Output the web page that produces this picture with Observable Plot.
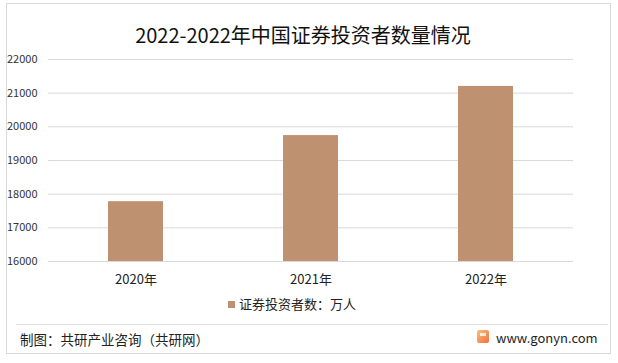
<!DOCTYPE html>
<html>
<head>
<meta charset="utf-8">
<script src="https://cdn.jsdelivr.net/npm/d3@7"></script>
<script src="https://cdn.jsdelivr.net/npm/@observablehq/plot@0.6"></script>
<style>
  html, body { margin: 0; padding: 0; background: #fff; }
  #wrap { position: relative; width: 618px; height: 363px; overflow: hidden; font-family: "Noto Sans CJK SC", "Noto Sans", sans-serif; color: #222; }
  #border { position: absolute; left: 6px; top: 3px; width: 605px; height: 351px; border: 1px solid #d9d9d9; box-sizing: border-box; }
  #title { position: absolute; left: 0; top: 20px; width: 606px; text-align: center; font-size: 20px; line-height: 30px; color: #111; }
  #chart { position: absolute; left: 0; top: 50px; }
  #legend { position: absolute; left: 228px; top: 296px; font-size: 13px; line-height: 16px; display: flex; align-items: center; color: #222; }
  #legend .sw { width: 7px; height: 7px; margin-right: 4px; }
  #sep { position: absolute; left: 16px; top: 324px; width: 592px; height: 1px; background: #e3e3e3; }
  #credit { position: absolute; left: 20px; top: 330px; font-size: 13.5px; line-height: 18px; color: #222; }
  #site { position: absolute; left: 496px; top: 329px; font-size: 13px; line-height: 18px; color: #222; }
  #logo { position: absolute; left: 477px; top: 330px; width: 12px; height: 13px; border-radius: 2px; background: linear-gradient(135deg, #f9c07a, #f0703f); }
  #logo::after { content: ""; position: absolute; left: 3px; top: 3px; width: 6px; height: 3px; background: #fff; opacity: 0.8; }
</style>
</head>
<body>
<div id="wrap">
  <div id="border"></div>
  <div id="title"></div>
  <div id="chart"></div>
  <div id="legend"></div>
  <div id="sep"></div>
  <div id="credit"></div>
  <div id="logo"></div>
  <div id="site"></div>
</div>
<script>
const titleText = "2022-2022年中国证券投资者数量情况";
const years = ["2020年", "2021年", "2022年"];
const investors = [17777, 19740, 21200];
const yTicks = [16000, 17000, 18000, 19000, 20000, 21000, 22000];
const seriesName = "证券投资者数：万人";
const creditText = "制图：共研产业咨询（共研网）";
const siteText = "www.gonyn.com";
const barColor = "#be9170";

const data = years.map((y, i) => ({year: y, value: investors[i]}));

document.getElementById("title").textContent = titleText;
document.getElementById("credit").textContent = creditText;
document.getElementById("site").textContent = siteText;
const lg = document.getElementById("legend");
lg.innerHTML = `<div class="sw" style="background:${barColor}"></div><span></span>`;
lg.querySelector("span").textContent = seriesName;

const chart = Plot.plot({
  width: 618,
  height: 241,
  marginTop: 9,
  marginBottom: 30,
  marginLeft: 48,
  marginRight: 45,
  style: {fontFamily: "'Noto Sans CJK SC', 'Noto Sans', sans-serif", background: "transparent", color: "#222"},
  x: {domain: years, paddingInner: 0.686, paddingOuter: 0.343, label: null},
  y: {domain: [16000, 22000], label: null},
  marks: [
    Plot.gridY(yTicks, {stroke: "#d9d9d9", strokeOpacity: 1, strokeWidth: 1}),
    Plot.barY(data, {x: "year", y1: 16000, y2: "value", fill: barColor}),
    Plot.axisY(yTicks, {tickSize: 0, tickPadding: 11, fontSize: 11, tickFormat: d => String(d), fill: "#333"}),
    Plot.axisX({tickSize: 0, tickPadding: 13, fontSize: 13, fill: "#222"})
  ]
});
document.getElementById("chart").appendChild(chart);
</script>
</body>
</html>
